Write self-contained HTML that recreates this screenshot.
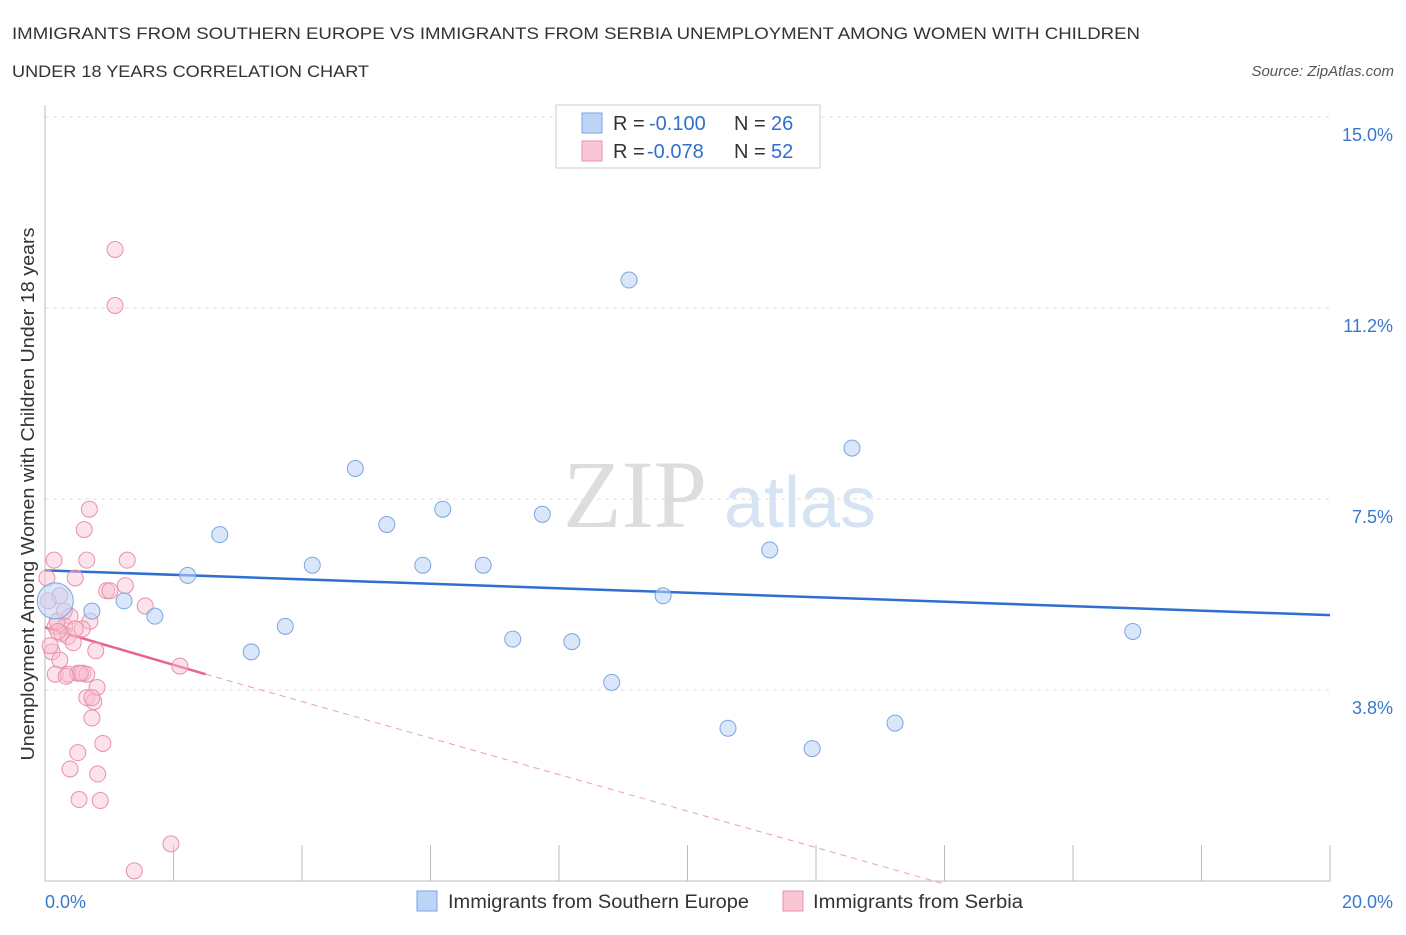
<!DOCTYPE html>
<html><head><meta charset="utf-8"><style>
body{margin:0;background:#fff;font-family:"Liberation Sans",sans-serif;}
svg text{font-family:"Liberation Sans",sans-serif;}
</style></head><body>
<svg width="1406" height="930" id="c">
<text x="12" y="39" font-size="17" fill="#333" textLength="1128" lengthAdjust="spacingAndGlyphs">IMMIGRANTS FROM SOUTHERN EUROPE VS IMMIGRANTS FROM SERBIA UNEMPLOYMENT AMONG WOMEN WITH CHILDREN</text>
<text x="12" y="77" font-size="17" fill="#333" textLength="357" lengthAdjust="spacingAndGlyphs">UNDER 18 YEARS CORRELATION CHART</text>
<text x="1394" y="76" font-size="15" fill="#555" font-style="italic" text-anchor="end">Source: ZipAtlas.com</text>
<text x="635" y="527" font-size="96" fill="#ddd" text-anchor="middle" style="font-family:'Liberation Serif',serif">ZIP</text>
<text x="800" y="527" font-size="72" fill="#d6e3f3" text-anchor="middle">atlas</text>
<g id="grid"></g><g id="axes"></g><g id="trend"></g><g id="pts"></g>
<text transform="translate(34,494) rotate(-90)" font-size="18" fill="#333" text-anchor="middle" textLength="533" lengthAdjust="spacingAndGlyphs">Unemployment Among Women with Children Under 18 years</text>
<g>
<rect x="556" y="105" width="264" height="63" fill="#fff" stroke="#ccc"/>
<rect x="582" y="113" width="20" height="20" fill="#bcd4f5" stroke="#7aa6e0"/>
<text x="613" y="130" font-size="20" fill="#333">R =</text>
<text x="649" y="130" font-size="20" fill="#2f6fd0">-0.100</text>
<text x="734" y="130" font-size="20" fill="#333">N =</text>
<text x="771" y="130" font-size="20" fill="#2f6fd0">26</text>
<rect x="582" y="141" width="20" height="20" fill="#f8c6d5" stroke="#e890aa"/>
<text x="613" y="158" font-size="20" fill="#333">R =</text>
<text x="647" y="158" font-size="20" fill="#2f6fd0">-0.078</text>
<text x="734" y="158" font-size="20" fill="#333">N =</text>
<text x="771" y="158" font-size="20" fill="#2f6fd0">52</text>
</g>
<g>
<rect x="417" y="891" width="20" height="20" fill="#bcd4f5" stroke="#7aa6e0"/>
<text x="448" y="908" font-size="19" fill="#333" textLength="301" lengthAdjust="spacingAndGlyphs">Immigrants from Southern Europe</text>
<rect x="783" y="891" width="20" height="20" fill="#f8c6d5" stroke="#e890aa"/>
<text x="813" y="908" font-size="19" fill="#333" textLength="210" lengthAdjust="spacingAndGlyphs">Immigrants from Serbia</text>
</g>
</svg>
<script>
const yTicks=[15.0,11.25,7.5,3.75];
const yTickLabels=["15.0%","11.2%","7.5%","3.8%"];
const xTickLabels=["0.0%","20.0%"];
const blueX=[1.23,0.73,1.71,2.22,2.72,3.21,3.74,4.16,4.83,5.32,5.88,6.19,6.82,7.28,7.74,8.2,8.82,9.09,9.62,10.63,11.28,11.94,12.56,13.23,16.93,0.16];
const blueY=[5.5,5.3,5.2,6.0,6.8,4.5,5.0,6.2,8.1,7.0,6.2,7.3,6.2,4.75,7.2,4.7,3.9,11.8,5.6,3.0,6.5,2.6,8.5,3.1,4.9,5.5];
const pinkX=[1.09,1.09,0.69,0.61,0.14,0.65,1.28,0.47,0.03,1.25,0.96,1.01,0.23,1.56,0.39,0.7,0.16,0.31,0.26,0.36,0.44,0.11,0.23,0.79,2.1,0.16,0.36,0.51,0.59,0.65,0.81,0.65,0.76,0.73,0.9,0.51,0.39,0.82,0.53,0.86,1.96,1.39,0.55,0.19,0.3,0.05,0.08,0.58,0.73,0.47,0.33,0.2];
const pinkY=[12.4,11.3,7.3,6.9,6.3,6.3,6.3,5.95,5.95,5.8,5.7,5.7,5.6,5.4,5.2,5.1,5.0,5.0,4.86,4.8,4.68,4.5,4.34,4.52,4.22,4.06,4.06,4.08,4.08,4.06,3.8,3.6,3.52,3.2,2.7,2.52,2.2,2.1,1.6,1.58,0.73,0.2,4.08,5.1,5.3,5.5,4.62,4.95,3.6,4.95,4.02,4.9];
const blueTrend=[0,6.1,20,5.22];
const pinkTrend=[0,4.98,2.5,4.06,14,-0.06];
const NS='http://www.w3.org/2000/svg';
const X=v=>45+v*64.25, Y=v=>881-v*50.93;
function mk(t,a,p){const e=document.createElementNS(NS,t);for(const k in a)e.setAttribute(k,a[k]);p.appendChild(e);return e;}
const grid=document.getElementById('grid'),axes=document.getElementById('axes'),tr=document.getElementById('trend'),pts=document.getElementById('pts');
yTicks.forEach((v,i)=>{const l=mk('line',{x1:45,x2:1330,y1:Y(v),y2:Y(v),stroke:'#ddd','stroke-dasharray':'4,4'},grid);


const t=mk('text',{x:1393,y:Y(v)+24,'font-size':18,fill:'#3a78d0','text-anchor':'end'},grid);t.textContent=yTickLabels[i];

});
const ax=mk('line',{x1:45,x2:45,y1:105,y2:881,stroke:'#bbb'},axes);


const bx=mk('line',{x1:45,x2:1330,y1:881,y2:881,stroke:'#bbb'},axes);


for(let i=0;i<=10;i++){const t=mk('line',{x1:X(i*2),x2:X(i*2),y1:845,y2:881,stroke:'#bbb'},axes);

}
[[0,45,'start'],[20,1393,'end']].forEach((d,i)=>{const t=mk('text',{x:d[1],y:908,'font-size':18,fill:'#3a78d0','text-anchor':d[2]},axes);t.textContent=xTickLabels[i];

});
const bl=mk('line',{x1:X(blueTrend[0]),y1:Y(blueTrend[1]),x2:X(blueTrend[2]),y2:Y(blueTrend[3]),stroke:'#2f6fd0','stroke-width':2.5},tr);


const pl=mk('line',{x1:X(pinkTrend[0]),y1:Y(pinkTrend[1]),x2:X(pinkTrend[2]),y2:Y(pinkTrend[3]),stroke:'#e8648c','stroke-width':2.5},tr);


const pd=mk('line',{x1:X(pinkTrend[2]),y1:Y(pinkTrend[3]),x2:X(pinkTrend[4]),y2:Y(pinkTrend[5]),stroke:'#e8a0b4','stroke-width':1,'stroke-dasharray':'6,5'},tr);


pinkX.forEach((x,i)=>{const c=mk('circle',{cx:X(x),cy:Y(pinkY[i]),r:8,fill:'rgba(248,190,208,0.45)',stroke:'#e890aa','stroke-width':1},pts);

});
blueX.forEach((x,i)=>{const c=mk('circle',{cx:X(x),cy:Y(blueY[i]),r:i==25?18:8,fill:'rgba(188,212,245,0.55)',stroke:'#7aa6e0','stroke-width':1},pts);

});
</script>
</body></html>
